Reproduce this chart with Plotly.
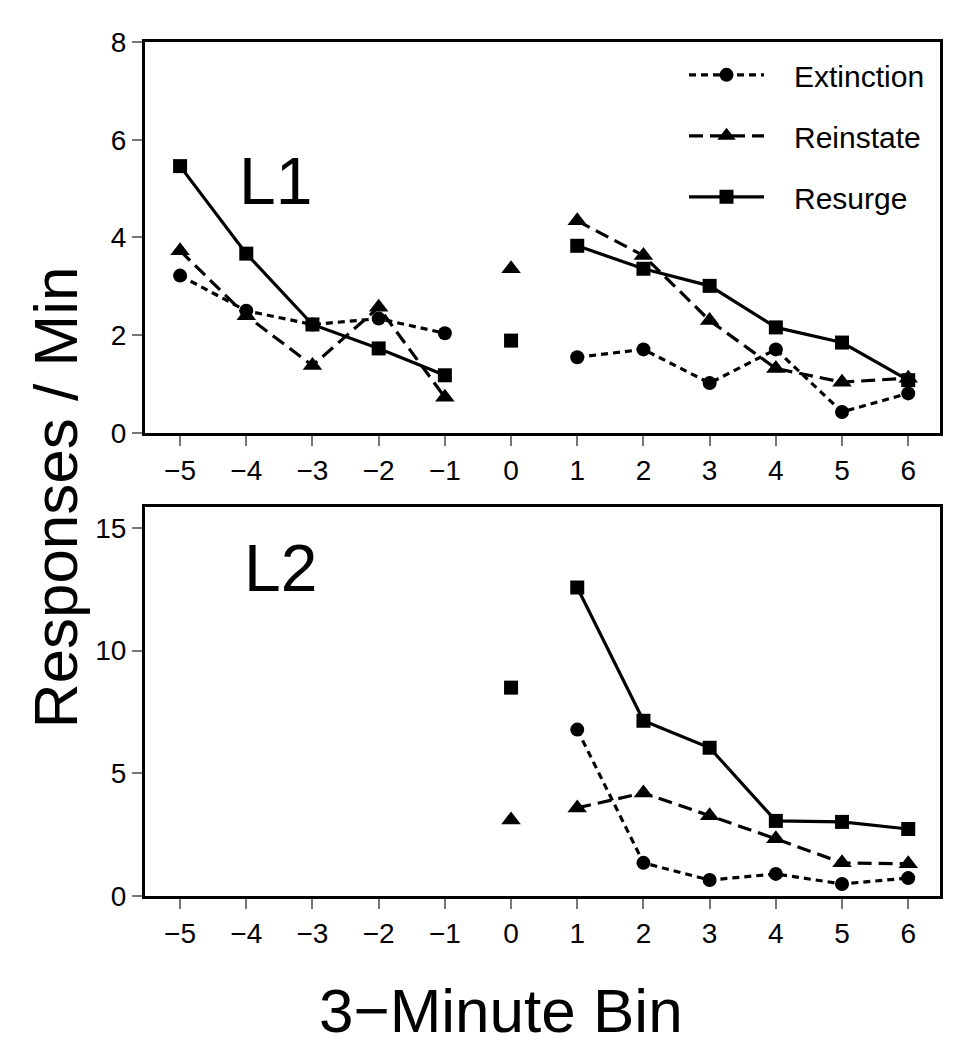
import plotly.graph_objects as go
from plotly.subplots import make_subplots

bins = [-5, -4, -3, -2, -1, 0, 1, 2, 3, 4, 5, 6]

# L1 panel (responses / min)
l1_extinction = [3.22, 2.50, 2.22, 2.34, 2.04, None, 1.55, 1.71, 1.02, 1.71, 0.43, 0.81]
l1_reinstate = [3.73, 2.40, 1.38, 2.57, 0.73, 3.36, 4.34, 3.63, 2.30, 1.32, 1.04, 1.12]
l1_resurge = [5.46, 3.67, 2.22, 1.73, 1.18, 1.89, 3.83, 3.36, 3.01, 2.16, 1.85, 1.08]

# L2 panel
l2_extinction = [None, None, None, None, None, None, 6.78, 1.35, 0.65, 0.90, 0.49, 0.73]
l2_reinstate = [None, None, None, None, None, 3.10, 3.59, 4.20, 3.27, 2.33, 1.35, 1.31]
l2_resurge = [None, None, None, None, None, 8.49, 12.57, 7.14, 6.04, 3.06, 3.02, 2.73]

FONT = "Liberation Sans, Arial, sans-serif"
PAD = "\u00a0" * 3  # gap between legend sample and label


def broken(xs, ys):
    # bin 0 is plotted on its own, not joined to its neighbours
    out_x, out_y = [], []
    for x, y in zip(xs, ys):
        if x in (0, 1):
            out_x.append(None)
            out_y.append(None)
        out_x.append(x)
        out_y.append(y)
    return out_x, out_y


styles = [
    ("Extinction", "circle", 14, "7px,5px"),
    ("Reinstate", "triangle-up", 17, "14px,7px"),
    ("Resurge", "square", 14, "solid"),
]

fig = make_subplots(rows=2, cols=1, vertical_spacing=0.08)

for row, series in ((1, [l1_extinction, l1_reinstate, l1_resurge]),
                    (2, [l2_extinction, l2_reinstate, l2_resurge])):
    for (name, sym, size, dash), vals in zip(styles, series):
        xs, ys = broken(bins, vals)
        fig.add_trace(go.Scatter(
            x=xs, y=ys, name=PAD + name, mode="lines+markers",
            connectgaps=False, legendgroup=name, showlegend=(row == 1),
            line=dict(color="black", width=3.2, dash=dash),
            marker=dict(symbol=sym, size=size, color="black"),
        ), row=row, col=1)

axis_style = dict(showline=True, linecolor="black", linewidth=3, mirror=True,
                  ticks="outside", ticklen=10, tickwidth=1.5, tickcolor="#777",
                  showgrid=False, zeroline=False,
                  tickfont=dict(family=FONT, size=28, color="black"))

fig.update_xaxes(range=[-5.53, 6.48], tickmode="linear", dtick=1, **axis_style)
fig.update_yaxes(**axis_style)
fig.update_yaxes(range=[0, 8.0], tickvals=[0, 2, 4, 6, 8], row=1, col=1)
fig.update_yaxes(range=[0, 15.85], tickvals=[0, 5, 10, 15], row=2, col=1)
fig.update_layout(
    xaxis=dict(domain=[0, 1]), yaxis=dict(domain=[0.5422, 1.0]),
    yaxis2=dict(domain=[0, 0.4555]),
)

fig.add_annotation(x=-3.56, y=5.15, xref="x", yref="y", text="L1",
                   showarrow=False, font=dict(family=FONT, size=66, color="black"))
fig.add_annotation(x=-3.49, y=13.35, xref="x2", yref="y2", text="L2",
                   showarrow=False, font=dict(family=FONT, size=66, color="black"))
fig.add_annotation(x=-0.113, y=0.467, xref="paper", yref="paper",
                   xanchor="center", yanchor="middle",
                   text="Responses / Min", textangle=-90, showarrow=False,
                   font=dict(family=FONT, size=62, color="black"))
fig.add_annotation(x=0.448, y=-0.134, xref="paper", yref="paper",
                   xanchor="center", yanchor="middle",
                   text="3\u2212Minute Bin", showarrow=False,
                   font=dict(family=FONT, size=62, color="black"))

fig.update_layout(
    width=974, height=1050,
    margin=dict(l=137, r=42, t=34, b=162),
    plot_bgcolor="white", paper_bgcolor="white",
    legend=dict(x=0.678, y=0.992, xanchor="left", yanchor="top",
                bgcolor="rgba(0,0,0,0)", tracegroupgap=19, itemwidth=75,
                font=dict(family=FONT, size=30, color="black")),
)

fig.write_html("out.html")
